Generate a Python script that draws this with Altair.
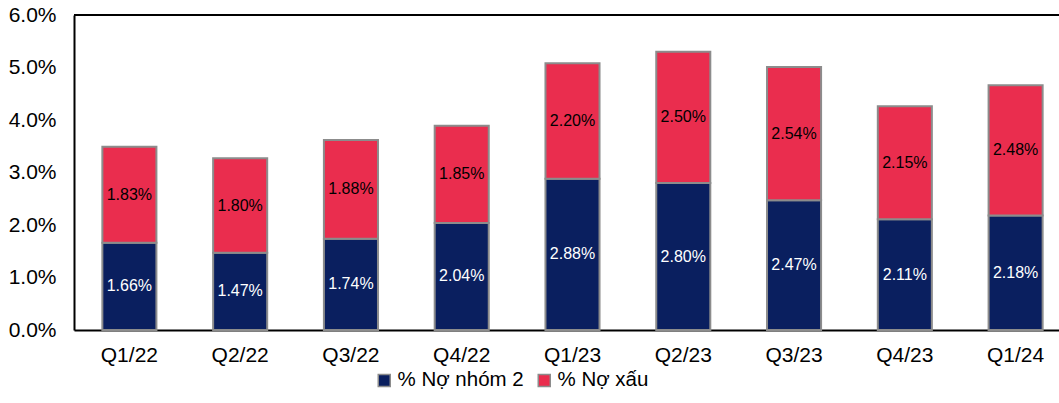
import altair as alt
import pandas as pd

# Quarterly loan-quality ratios (% of outstanding loans)
quarters = ["Q1/22", "Q2/22", "Q3/22", "Q4/22", "Q1/23", "Q2/23", "Q3/23", "Q4/23", "Q1/24"]
group2 = [1.66, 1.47, 1.74, 2.04, 2.88, 2.80, 2.47, 2.11, 2.18]
npl = [1.83, 1.80, 1.88, 1.85, 2.20, 2.50, 2.54, 2.15, 2.48]
series = ["% Nợ nhóm 2", "% Nợ xấu"]
colors = ["#0A1F5F", "#EA2D4E"]
y_ticks = [0, 1, 2, 3, 4, 5, 6]

rows = []
for q, a, b in zip(quarters, group2, npl):
    rows.append({"quarter": q, "series": series[0], "rank": 0, "value": a})
    rows.append({"quarter": q, "series": series[1], "rank": 1, "value": b})
df = pd.DataFrame(rows)

FONT = "Liberation Sans"

x_enc = alt.X(
    "quarter:N",
    sort=quarters,
    scale=alt.Scale(range=[0, 997], paddingInner=0.512, paddingOuter=0.256),
    axis=alt.Axis(
        title=None, labelAngle=0, ticks=False, domainColor="black", domainWidth=2,
        labelFontSize=21, labelPadding=14, labelColor="black", labelFont=FONT,
    ),
)

y_scale = alt.Scale(domain=[y_ticks[0], y_ticks[-1]], nice=False)
y_axis = alt.Axis(
    title=None, values=y_ticks, labelExpr="format(datum.value, '.1f') + '%'",
    ticks=False, grid=False, domainColor="black", domainWidth=2,
    labelFontSize=21, labelPadding=18, labelColor="black", labelFont=FONT,
)

bars = alt.Chart(df).mark_bar(stroke="#8C8C8C", strokeWidth=2).encode(
    x=x_enc,
    y=alt.Y("value:Q", stack="zero", scale=y_scale, axis=y_axis),
    color=alt.Color(
        "series:N",
        scale=alt.Scale(domain=series, range=colors),
        legend=alt.Legend(
            title=None, orient="none", direction="horizontal",
            legendX=300, legendY=355,
            symbolType="square", symbolSize=144, symbolStrokeColor="#8C8C8C",
            symbolStrokeWidth=1.5, symbolOpacity=1,
            labelFontSize=20.5, labelFont=FONT, labelColor="black",
            labelOffset=3, columnPadding=10, padding=0,
        ),
    ),
    order=alt.Order("rank:Q"),
)

labels = alt.Chart(df).transform_stack(
    stack="value", groupby=["quarter"], as_=["y0", "y1"], sort=[alt.SortField("rank")]
).transform_calculate(
    mid="(datum.y0 + datum.y1) / 2",
    label="format(datum.value, '.2f') + '%'",
).mark_text(fontSize=16, font=FONT, baseline="middle", align="center").encode(
    x=alt.X("quarter:N", sort=quarters),
    y=alt.Y("mid:Q", scale=y_scale, axis=y_axis),
    text="label:N",
    color=alt.condition(alt.datum.rank == 0, alt.value("white"), alt.value("black")),
)

# Frame line along the top of the value axis
top_line = alt.Chart(pd.DataFrame({"top": [y_ticks[-1]]})).mark_rule(
    color="black", strokeWidth=2
).encode(y=alt.Y("top:Q", scale=y_scale, axis=y_axis))

chart = alt.layer(bars, labels, top_line).properties(
    width=985,
    height=315,
    autosize=alt.AutoSizeParams(type="none"),
    padding={"left": 74, "top": 15, "right": 0, "bottom": 73},
    background="white",
).configure_view(stroke=None)

chart.save("out.html", embed_options={"renderer": "svg", "actions": False})
